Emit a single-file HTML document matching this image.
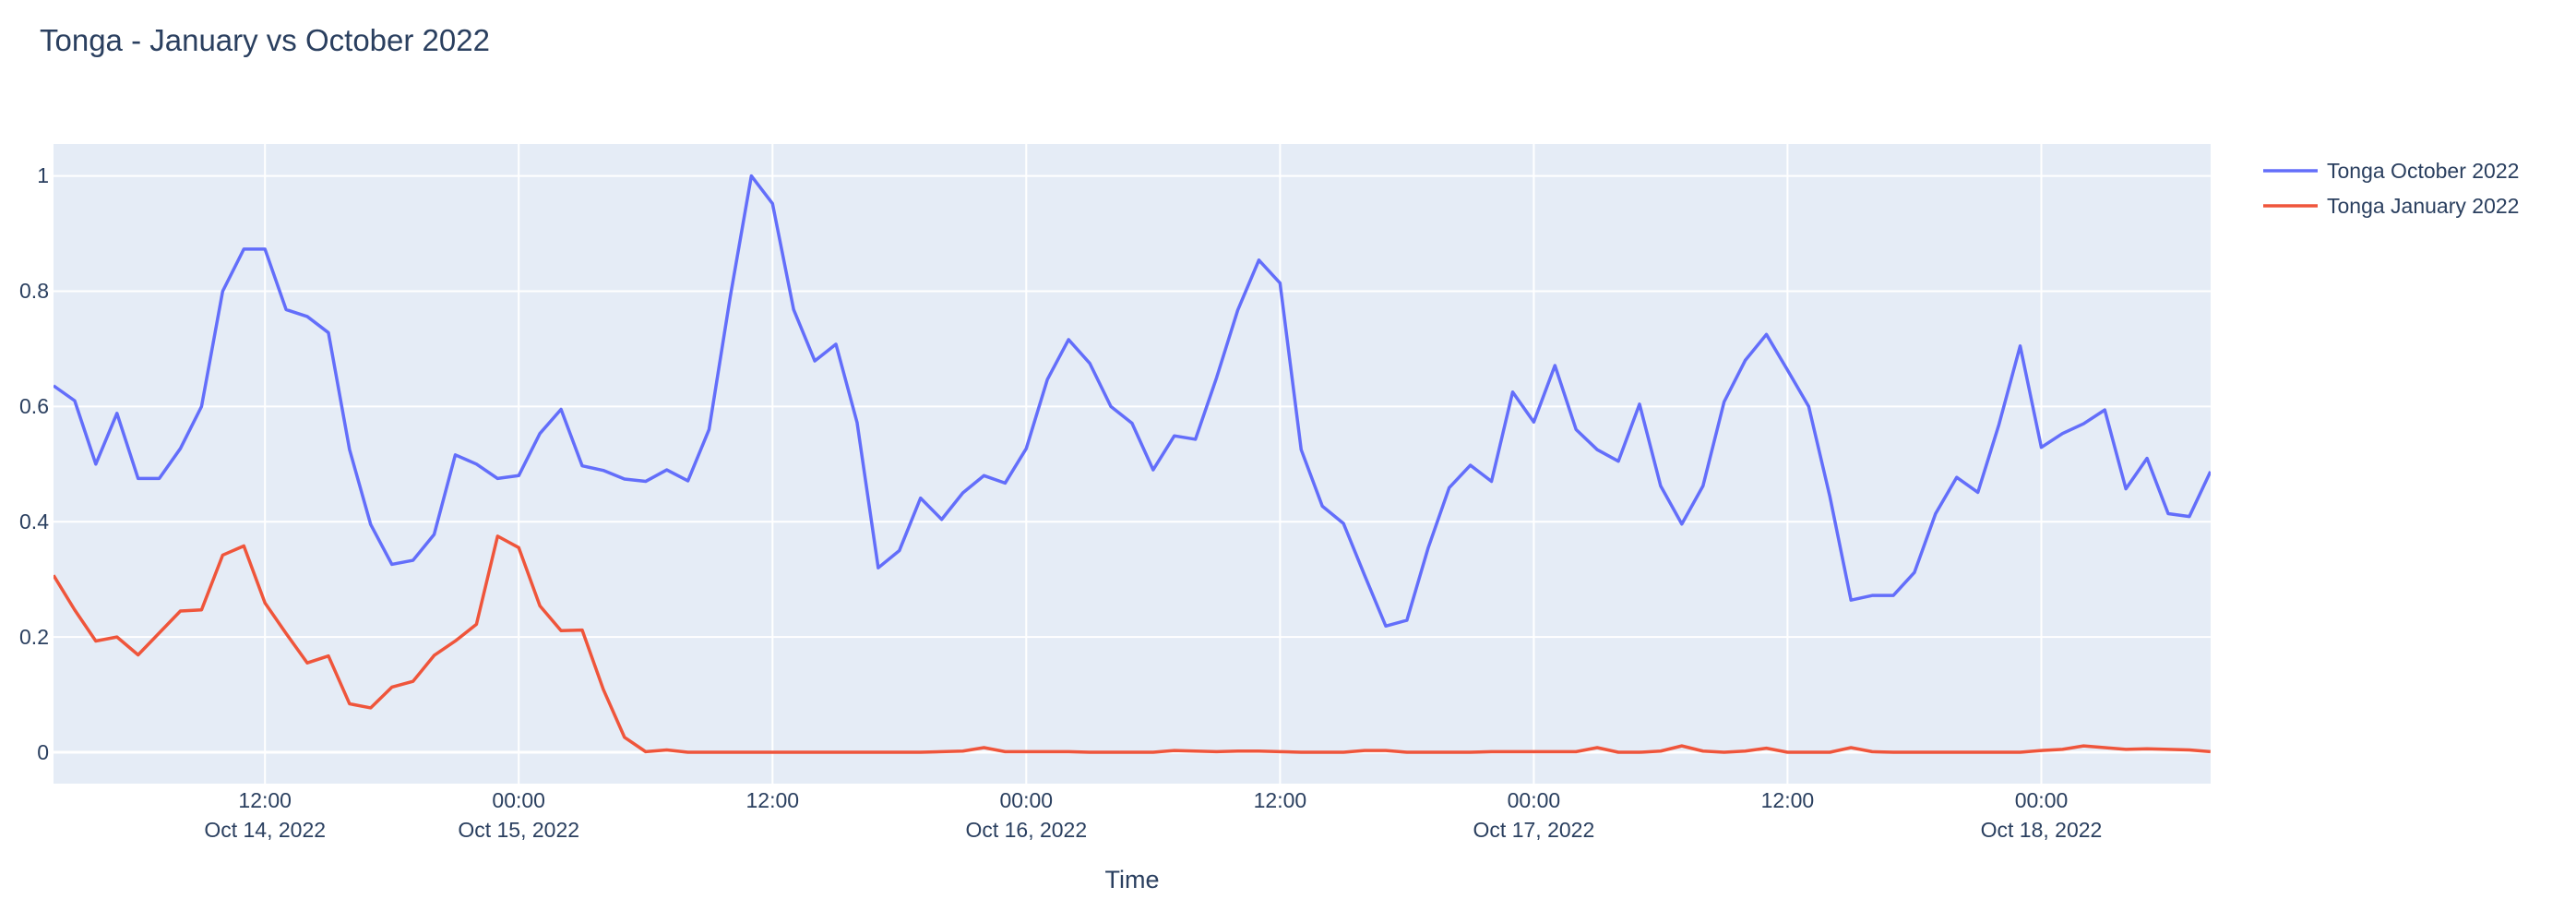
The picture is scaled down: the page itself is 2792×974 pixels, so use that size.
<!DOCTYPE html>
<html><head><meta charset="utf-8"><style>
html,body{margin:0;padding:0;background:#fff;}
svg{display:block;font-family:"Liberation Sans",Arial,sans-serif;}
</style></head><body>
<svg width="2792" height="974" viewBox="0 0 2792 974" xmlns="http://www.w3.org/2000/svg">
<rect width="2792" height="974" fill="#fff"/>
<text x="43" y="55" font-size="33" fill="#2a3f5f">Tonga - January vs October 2022</text>
<rect x="58" y="156" width="2338" height="693" fill="#E5ECF6"/>
<g stroke="#fff" stroke-width="2">
<line x1="58" x2="2396" y1="190.6" y2="190.6"/>
<line x1="58" x2="2396" y1="315.5" y2="315.5"/>
<line x1="58" x2="2396" y1="440.4" y2="440.4"/>
<line x1="58" x2="2396" y1="565.2" y2="565.2"/>
<line x1="58" x2="2396" y1="690.1" y2="690.1"/>
<line x1="58" x2="2396" y1="815" y2="815" stroke-width="3"/>
<line y1="156" y2="849" x1="287.2" x2="287.2"/>
<line y1="156" y2="849" x1="562.2" x2="562.2"/>
<line y1="156" y2="849" x1="837.3" x2="837.3"/>
<line y1="156" y2="849" x1="1112.3" x2="1112.3"/>
<line y1="156" y2="849" x1="1387.4" x2="1387.4"/>
<line y1="156" y2="849" x1="1662.4" x2="1662.4"/>
<line y1="156" y2="849" x1="1937.4" x2="1937.4"/>
<line y1="156" y2="849" x1="2212.5" x2="2212.5"/>
</g>
<svg x="58" y="156" width="2338" height="693" overflow="hidden">
<g transform="translate(-58,-156)">
<g transform="matrix(22.92,0,0,-624.4,58,815)" fill="none" stroke-linejoin="round">
<polyline vector-effect="non-scaling-stroke" stroke="#EF553B" stroke-width="3.5" points="0,0.307 1,0.247 2,0.193 3,0.2 4,0.169 5,0.207 6,0.245 7,0.247 8,0.342 9,0.358 10,0.259 11,0.206 12,0.155 13,0.167 14,0.084 15,0.077 16,0.113 17,0.123 18,0.168 19,0.193 20,0.222 21,0.375 22,0.355 23,0.254 24,0.211 25,0.212 26,0.109 27,0.026 28,0.001 29,0.004 30,0 31,0 32,0 33,0 34,0 35,0 36,0 37,0 38,0 39,0 40,0 41,0 42,0.001 43,0.002 44,0.008 45,0.001 46,0.001 47,0.001 48,0.001 49,0 50,0 51,0 52,0 53,0.003 54,0.002 55,0.001 56,0.002 57,0.002 58,0.001 59,0 60,0 61,0 62,0.003 63,0.003 64,0 65,0 66,0 67,0 68,0.001 69,0.001 70,0.001 71,0.001 72,0.001 73,0.008 74,0 75,0 76,0.002 77,0.011 78,0.002 79,0 80,0.002 81,0.007 82,0 83,0 84,0 85,0.008 86,0.001 87,0 88,0 89,0 90,0 91,0 92,0 93,0 94,0.003 95,0.005 96,0.011 97,0.008 98,0.005 99,0.006 100,0.005 101,0.004 102,0.001"/>
<polyline vector-effect="non-scaling-stroke" stroke="#636efa" stroke-width="3.5" points="0,0.636 1,0.61 2,0.5 3,0.588 4,0.475 5,0.475 6,0.527 7,0.6 8,0.8 9,0.873 10,0.873 11,0.768 12,0.756 13,0.728 14,0.525 15,0.395 16,0.326 17,0.333 18,0.378 19,0.516 20,0.5 21,0.475 22,0.48 23,0.553 24,0.595 25,0.497 26,0.489 27,0.474 28,0.47 29,0.49 30,0.471 31,0.56 32,0.79 33,1.0 34,0.952 35,0.768 36,0.679 37,0.708 38,0.572 39,0.32 40,0.35 41,0.441 42,0.404 43,0.45 44,0.48 45,0.467 46,0.527 47,0.647 48,0.716 49,0.675 50,0.6 51,0.571 52,0.49 53,0.549 54,0.543 55,0.65 56,0.767 57,0.854 58,0.814 59,0.525 60,0.427 61,0.397 62,0.307 63,0.219 64,0.229 65,0.354 66,0.459 67,0.498 68,0.47 69,0.625 70,0.573 71,0.671 72,0.56 73,0.525 74,0.505 75,0.604 76,0.462 77,0.396 78,0.462 79,0.608 80,0.68 81,0.725 82,0.663 83,0.6 84,0.444 85,0.264 86,0.272 87,0.272 88,0.312 89,0.414 90,0.477 91,0.451 92,0.569 93,0.705 94,0.529 95,0.553 96,0.57 97,0.594 98,0.457 99,0.51 100,0.414 101,0.409 102,0.487"/>
</g></g></svg>
<g font-size="23" fill="#2a3f5f" text-anchor="end">
<text x="53" y="198">1</text>
<text x="53" y="323">0.8</text>
<text x="53" y="448">0.6</text>
<text x="53" y="573">0.4</text>
<text x="53" y="698">0.2</text>
<text x="53" y="823">0</text>
</g>
<g font-size="23" fill="#2a3f5f" text-anchor="middle">
<text x="287.2" y="875">12:00</text><text x="287.2" y="907">Oct 14, 2022</text>
<text x="562.2" y="875">00:00</text><text x="562.2" y="907">Oct 15, 2022</text>
<text x="837.3" y="875">12:00</text>
<text x="1112.3" y="875">00:00</text><text x="1112.3" y="907">Oct 16, 2022</text>
<text x="1387.4" y="875">12:00</text>
<text x="1662.4" y="875">00:00</text><text x="1662.4" y="907">Oct 17, 2022</text>
<text x="1937.4" y="875">12:00</text>
<text x="2212.5" y="875">00:00</text><text x="2212.5" y="907">Oct 18, 2022</text>
<text x="1227" y="962" font-size="27">Time</text>
</g>
<line x1="2453" x2="2512" y1="185" y2="185" stroke="#636efa" stroke-width="3.5"/>
<line x1="2453" x2="2512" y1="223" y2="223" stroke="#EF553B" stroke-width="3.5"/>
<g font-size="23" fill="#2a3f5f">
<text x="2522" y="193">Tonga October 2022</text>
<text x="2522" y="231">Tonga January 2022</text>
</g>
</svg>
</body></html>
